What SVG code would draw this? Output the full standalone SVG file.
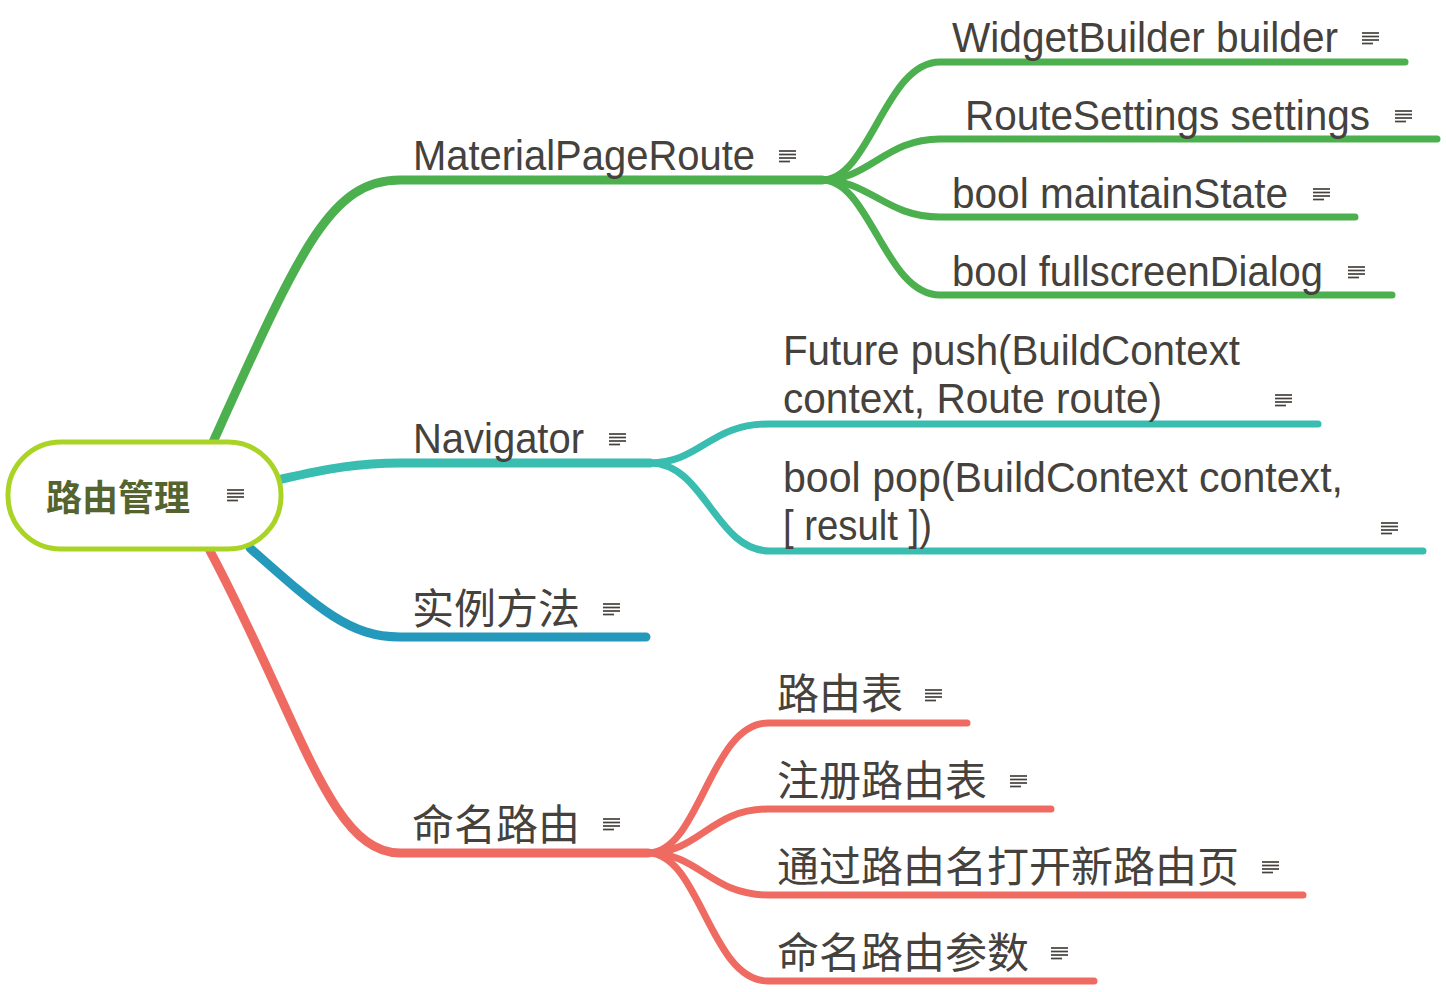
<svg xmlns="http://www.w3.org/2000/svg" width="1446" height="992" viewBox="0 0 1446 992">
<style>
.t{font-family:"Liberation Sans",Arial,sans-serif;font-size:42px;fill:#45413c;}
.c{font-family:"Noto Sans CJK SC",sans-serif;font-size:42px;fill:#45413c;}
.root{font-family:"Noto Sans CJK SC",sans-serif;font-size:36px;font-weight:bold;fill:#55632f;}
.l{fill:none;stroke-linecap:round;stroke-linejoin:round;}
.g{stroke:#4bb04d;}
.tl{stroke:#38bdb0;}
.b{stroke:#2499bb;}
.r{stroke:#ef6b62;}
</style>
<defs>
<g id="note" stroke="#45413c" stroke-width="1.7">
<line x1="0" y1="1" x2="17" y2="1"/>
<line x1="0" y1="4.5" x2="17" y2="4.5"/>
<line x1="0" y1="8" x2="17" y2="8"/>
<line x1="0" y1="11.5" x2="11" y2="11.5"/>
</g>
</defs>
<g id="connectors">
<path class="l g" stroke-width="9" d="M213 442 C300 250 330 180 400 180 L822 180"/>
<path class="l tl" stroke-width="9" d="M282 479 C330 468 360 463 400 463 L650 463"/>
<path class="l b" stroke-width="9" d="M250 548 C320 610 350 637 400 637 L646 637"/>
<path class="l r" stroke-width="9" d="M210 551 C300 720 330 853 400 853 L648 853"/>
<path class="l g" stroke-width="7" d="M822 180 C870 180 885 62 940 62 L1405 62"/>
<path class="l g" stroke-width="7" d="M822 180 C870 180 885 139 940 139 L1437 139"/>
<path class="l g" stroke-width="7" d="M822 180 C870 180 885 217 940 217 L1355 217"/>
<path class="l g" stroke-width="7" d="M822 180 C870 180 885 295 940 295 L1392 295"/>
<path class="l tl" stroke-width="7" d="M650 463 C700 463 710 424 768 424 L1318 424"/>
<path class="l tl" stroke-width="7" d="M650 463 C705 463 715 551 770 551 L1423 551"/>
<path class="l r" stroke-width="7" d="M648 853 C700 853 710 723 768 723 L967 723"/>
<path class="l r" stroke-width="7" d="M648 853 C700 853 710 809 768 809 L1051 809"/>
<path class="l r" stroke-width="7" d="M648 853 C700 853 710 895 768 895 L1303 895"/>
<path class="l r" stroke-width="7" d="M648 853 C700 853 710 981 768 981 L1094 981"/>
</g>
<g id="root">
<rect x="8" y="442" width="273" height="107" rx="53" ry="53" fill="#fff" stroke="#a9d426" stroke-width="5"/>
<text class="root" x="46" y="511">路由管理</text>
<use href="#note" x="227" y="489"/>
</g>
<g id="n-material">
<text class="t" x="413" y="170" textLength="342" lengthAdjust="spacingAndGlyphs">MaterialPageRoute</text>
<use href="#note" x="779" y="150"/>
</g>
<g id="n-widget">
<text class="t" x="952" y="52" textLength="386" lengthAdjust="spacingAndGlyphs">WidgetBuilder builder</text>
<use href="#note" x="1362" y="32"/>
</g>
<g id="n-settings">
<text class="t" x="965" y="130" textLength="405" lengthAdjust="spacingAndGlyphs">RouteSettings settings</text>
<use href="#note" x="1395" y="110"/>
</g>
<g id="n-maintain">
<text class="t" x="952" y="208" textLength="336" lengthAdjust="spacingAndGlyphs">bool maintainState</text>
<use href="#note" x="1313" y="188"/>
</g>
<g id="n-fullscreen">
<text class="t" x="952" y="286" textLength="371" lengthAdjust="spacingAndGlyphs">bool fullscreenDialog</text>
<use href="#note" x="1348" y="266"/>
</g>
<g id="n-navigator">
<text class="t" x="413" y="453" textLength="171" lengthAdjust="spacingAndGlyphs">Navigator</text>
<use href="#note" x="609" y="433"/>
</g>
<g id="n-push">
<text class="t" x="783" y="365" textLength="457" lengthAdjust="spacingAndGlyphs">Future push(BuildContext</text>
<text class="t" x="783" y="413" textLength="379" lengthAdjust="spacingAndGlyphs">context, Route route)</text>
<use href="#note" x="1275" y="394"/>
</g>
<g id="n-pop">
<text class="t" x="783" y="492" textLength="560" lengthAdjust="spacingAndGlyphs">bool pop(BuildContext context,</text>
<text class="t" x="783" y="540" textLength="149" lengthAdjust="spacingAndGlyphs">[ result ])</text>
<use href="#note" x="1381" y="522"/>
</g>
<g id="n-instance">
<text class="c" x="412" y="624">实例方法</text>
<use href="#note" x="603" y="603"/>
</g>
<g id="n-named">
<text class="c" x="412" y="840">命名路由</text>
<use href="#note" x="603" y="818"/>
</g>
<g id="n-table">
<text class="c" x="777" y="709">路由表</text>
<use href="#note" x="925" y="689"/>
</g>
<g id="n-register">
<text class="c" x="777" y="796">注册路由表</text>
<use href="#note" x="1010" y="775"/>
</g>
<g id="n-open">
<text class="c" x="777" y="882">通过路由名打开新路由页</text>
<use href="#note" x="1262" y="861"/>
</g>
<g id="n-params">
<text class="c" x="777" y="968">命名路由参数</text>
<use href="#note" x="1051" y="947"/>
</g>
</svg>
